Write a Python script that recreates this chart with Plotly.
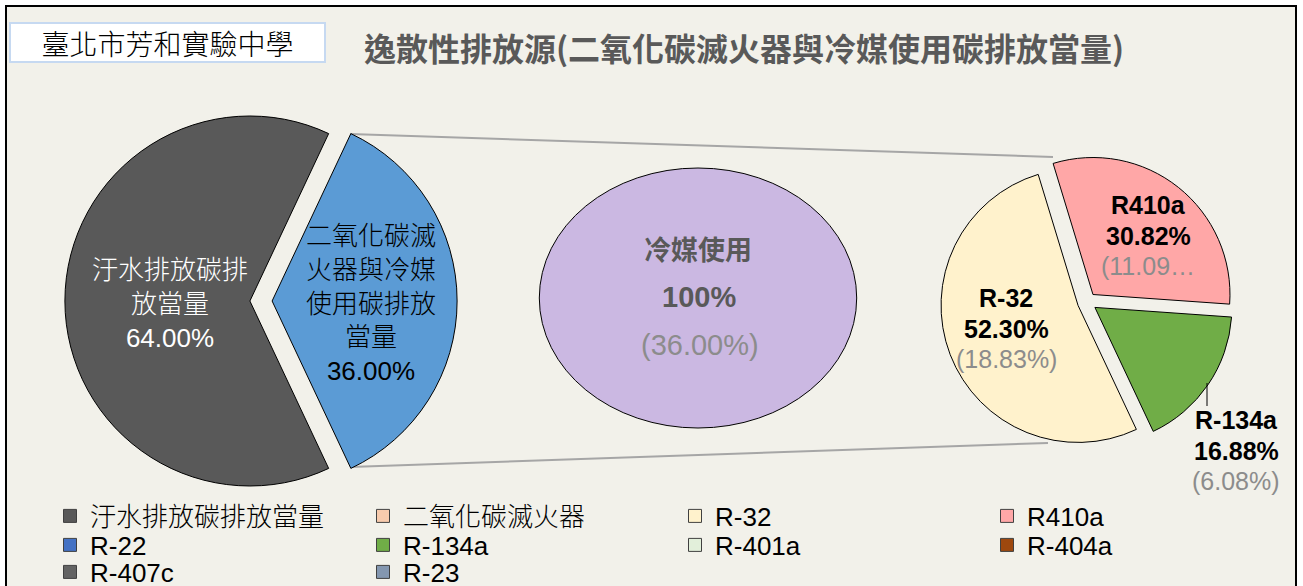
import plotly.graph_objects as go

W, H = 1303, 586

# ---------------- data ----------------
overall_labels = ['汙水排放碳排放當量', '二氧化碳滅火器與冷媒使用碳排放當量']
overall_values = [64.00, 36.00]
overall_colors = ['#595959', '#5b9bd5']
overall_text_colors = ['#ffffff', '#000000']
overall_wrap = [6, 5]

sub_label = '冷媒使用'
sub_value = 100
sub_share = 36.00

ref_labels = ['R-32', 'R410a', 'R-134a']
ref_values = [52.30, 30.82, 16.88]
ref_share = [18.83, 11.09, 6.08]
ref_colors = ['#fff2cc', '#ffa7a7', '#70ad47']

legend_labels = ['汙水排放碳排放當量', '二氧化碳滅火器', 'R-32', 'R410a',
                 'R-22', 'R-134a', 'R-401a', 'R-404a',
                 'R-407c', 'R-23']
legend_colors = ['#595959', '#f8cbad', '#fff2cc', '#ffa7a7',
                 '#4472c4', '#70ad47', '#e2efda', '#9e480e',
                 '#636363', '#8497b0']

title_text = '逸散性排放源(二氧化碳滅火器與冷媒使用碳排放當量)'
school_text = '臺北市芳和實驗中學'

FONT = 'Liberation Sans, Noto Sans CJK TC, sans-serif'
CJK = 'Noto Sans CJK TC, Liberation Sans, sans-serif'


def px(x):
    return x / W


def py(y):
    return 1 - y / H


def dom(cx, cy, r, pull):
    half = r * (1 + pull)
    return dict(x=[px(cx - half), px(cx + half)], y=[py(cy + half), py(cy - half)])


def wrap(s, n):
    return '<br>'.join(s[i:i + n] for i in range(0, len(s), n))


fig = go.Figure()

# ---------------- pies ----------------
L_CX, L_CY, L_R, L_PULL = 261, 301, 185, 0.06
R_CX, R_CY, R_R, R_PULL = 1087, 302, 137, 0.07

fig.add_trace(go.Pie(
    labels=overall_labels, values=overall_values, sort=False,
    direction='clockwise', rotation=270 - overall_values[0] / sum(overall_values) * 180,
    pull=[L_PULL] * len(overall_values),
    marker=dict(colors=overall_colors, line=dict(color='#000000', width=1)),
    textinfo='none', hoverinfo='skip', showlegend=False,
    domain=dom(L_CX, L_CY, L_R, L_PULL)))

fig.add_trace(go.Pie(
    labels=ref_labels, values=ref_values, sort=False,
    direction='clockwise', rotation=154.8,
    pull=[R_PULL] * len(ref_values),
    marker=dict(colors=ref_colors, line=dict(color='#000000', width=1)),
    textinfo='none', hoverinfo='skip', showlegend=False,
    domain=dom(R_CX, R_CY, R_R, R_PULL)))

# ---------------- legend entries (one legend per entry) ----------------
col_left = [50, 363, 675, 987]
row_mid = [516, 545, 572]
legend_layouts = {}
for i, (lab, col) in enumerate(zip(legend_labels, legend_colors)):
    key = 'legend' if i == 0 else f'legend{i + 1}'
    fig.add_trace(go.Scatter(
        x=[None], y=[None], mode='markers', name=lab, legend=key,
        marker=dict(symbol='square', size=13, color=col,
                    line=dict(color='#404040', width=1)),
        showlegend=True, hoverinfo='skip'))
    legend_layouts[key] = dict(
        x=px(col_left[i % 4]), y=py(row_mid[i // 4]), xanchor='left', yanchor='middle',
        xref='paper', yref='paper', bgcolor='rgba(0,0,0,0)', borderwidth=0,
        font=dict(size=26, color='#000000', family=FONT, weight=300), itemwidth=30)

# ---------------- shapes ----------------
shapes = [
    # chart area background and frame
    dict(type='rect', xref='paper', yref='paper', x0=px(6), x1=px(1296), y0=py(640), y1=py(6),
         fillcolor='#f2f1ea', line=dict(color='#000000', width=2), layer='below'),
    # connector lines
    dict(type='line', xref='paper', yref='paper', x0=px(350), y0=py(134), x1=px(1053), y1=py(157),
         line=dict(color='#a6a6a6', width=2), layer='below'),
    dict(type='line', xref='paper', yref='paper', x0=px(350), y0=py(467), x1=px(1048), y1=py(443),
         line=dict(color='#a6a6a6', width=2), layer='below'),
    # secondary (single category) ellipse
    dict(type='circle', xref='paper', yref='paper', x0=px(698 - 158.7), x1=px(698 + 158.7),
         y0=py(298 + 130), y1=py(298 - 130),
         fillcolor='#cbb8e2', line=dict(color='#000000', width=1), layer='below'),
    # leader line for R-134a
    dict(type='line', xref='paper', yref='paper', x0=px(1207), y0=py(383), x1=px(1207), y1=py(406),
         line=dict(color='#000000', width=1), layer='above'),
]

# ---------------- annotations ----------------
ann = []


def add_text(x, y, text, size, color, family=FONT, weight=None, **kw):
    f = dict(size=size, color=color, family=family)
    if weight is not None:
        f['weight'] = weight
    ann.append(dict(x=px(x), y=py(y), xref='paper', yref='paper', text=text, showarrow=False,
                    xanchor='center', yanchor='middle', font=f, **kw))


# school box
add_text(167, 42.5, school_text, 28, '#000000', family=CJK, weight=300,
         bgcolor='#ffffff', bordercolor='#c6d9f1', borderwidth=2, borderpad=0,
         width=313, height=37)
# title
add_text(744, 47, '<b>' + title_text + '</b>', 32, '#595959', family=CJK)

# left pie labels
left_pos = [(170, 304), (371, 304)]
for lab, v, c, n, (x, y) in zip(overall_labels, overall_values, overall_text_colors,
                                overall_wrap, left_pos):
    add_text(x, y, wrap(lab, n) + '<br>' + f'{v:.2f}%', 26, c, weight=300)

# middle ellipse labels
add_text(698, 248, '<b>' + sub_label + '</b>', 27, '#595959', family=CJK)
add_text(699, 297, f'<b>{sub_value}%</b>', 29, '#595959')
add_text(700, 345, f'({sub_share:.2f}%)', 29, '#8c8c8c')

# right pie labels
right_pos = [(1006, 298), (1148, 205), (1236, 420)]
for lab, v, s, (x, y) in zip(ref_labels, ref_values, ref_share, right_pos):
    share_txt = f'({s:.2f}%)'
    if lab == 'R410a':
        share_txt = share_txt[:6] + '…'
    add_text(x, y, f'<b>{lab}</b>', 25, '#000000')
    add_text(x, y + 31, f'<b>{v:.2f}%</b>', 25, '#000000')
    add_text(x, y + 61, share_txt, 25, '#8c8c8c')

fig.update_layout(
    width=W, height=H,
    margin=dict(l=0, r=0, t=0, b=0, autoexpand=False),
    paper_bgcolor='#ffffff', plot_bgcolor='rgba(0,0,0,0)',
    xaxis=dict(visible=False), yaxis=dict(visible=False),
    shapes=shapes, annotations=ann,
    font=dict(family=FONT),
    hovermode=False,
    **legend_layouts,
)

fig.write_html('out.html',
               config={'displayModeBar': False},
               post_script="document.body.style.margin='0px';document.body.style.overflow='hidden';")
